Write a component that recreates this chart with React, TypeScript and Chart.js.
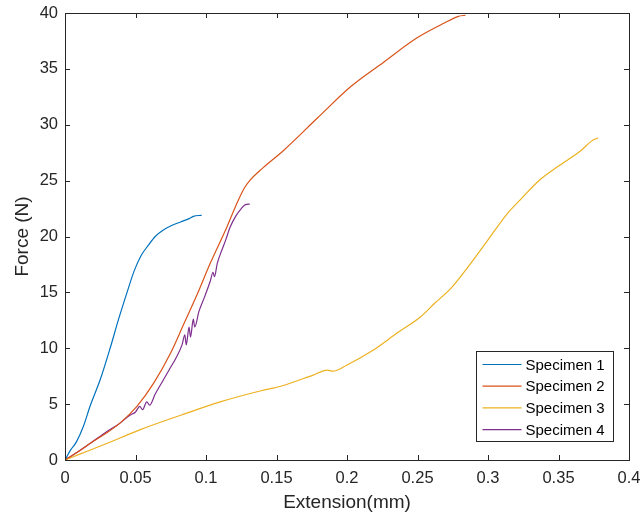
import React, { useEffect, useRef } from "react";
import { Chart, registerables } from "chart.js";

Chart.register(...registerables);

const seriesLabels = ["Specimen 1", "Specimen 2", "Specimen 3", "Specimen 4"];
const seriesColors = ["#0072BD", "#D95319", "#EDB120", "#7E2F8E"];

const s1x = [0, 0.004, 0.008, 0.013, 0.018, 0.025, 0.032, 0.038, 0.044, 0.049, 0.054, 0.059, 0.064, 0.070, 0.076, 0.082, 0.088, 0.091, 0.097];
const s1y = [0, 0.9, 1.6, 3.0, 4.9, 7.2, 10.0, 12.6, 15.0, 16.9, 18.3, 19.2, 20.0, 20.6, 21.0, 21.3, 21.6, 21.8, 21.9];

const s2x = [0, 0.010, 0.018, 0.028, 0.039, 0.051, 0.063, 0.075, 0.084, 0.094, 0.103, 0.115, 0.122, 0.127, 0.131, 0.140, 0.155, 0.179, 0.2025, 0.226, 0.250, 0.269, 0.279, 0.284];
const s2y = [0, 0.8, 1.5, 2.3, 3.3, 4.8, 6.9, 9.6, 12.1, 14.9, 17.6, 20.9, 23.0, 24.3, 25.0, 26.1, 27.7, 30.6, 33.4, 35.6, 37.8, 39.1, 39.7, 39.8];

const s3x = [0, 0.010, 0.030, 0.053, 0.082, 0.110, 0.139, 0.153, 0.176, 0.186, 0.190, 0.200, 0.217, 0.236, 0.252, 0.262, 0.274, 0.286, 0.300, 0.314, 0.323, 0.337, 0.350, 0.366, 0.374, 0.378];
const s3y = [0, 0.5, 1.5, 2.7, 4.0, 5.2, 6.2, 6.6, 7.6, 8.05, 7.95, 8.5, 9.7, 11.4, 12.8, 14.0, 15.4, 17.3, 19.7, 22.1, 23.3, 25.1, 26.3, 27.7, 28.6, 28.8];

const s4x = [0, 0.010, 0.018, 0.028, 0.039, 0.046, 0.050, 0.053, 0.055, 0.058, 0.060, 0.064, 0.069, 0.074, 0.079, 0.083, 0.085, 0.086, 0.088, 0.089, 0.091, 0.092, 0.095, 0.099, 0.103, 0.105, 0.106, 0.108, 0.111, 0.114, 0.117, 0.121, 0.125, 0.128, 0.131];
const s4y = [0, 0.8, 1.5, 2.4, 3.3, 4.0, 4.3, 4.8, 4.5, 5.2, 4.9, 5.9, 7.0, 8.1, 9.2, 10.3, 11.2, 10.3, 11.9, 11.0, 12.6, 11.9, 13.3, 14.6, 16.0, 16.8, 16.4, 17.6, 18.7, 19.7, 20.8, 21.8, 22.5, 22.85, 22.9];

const xTitle = "Extension(mm)";
const yTitle = "Force (N)";
const xMin = 0, xMax = 0.4, xStep = 0.05;
const yMin = 0, yMax = 40, yStep = 5;

const FONT = "Arial, 'Liberation Sans', Helvetica, sans-serif";
const AXIS_COLOR = "#262626";

const toPts = (xs: number[], ys: number[]) => xs.map((x, i) => ({ x, y: ys[i] }));

const framePlugin = {
  id: "frameTicks",
  afterDatasetsDraw(chart: any) {
    const { ctx, chartArea: a, scales } = chart;
    ctx.save();
    ctx.strokeStyle = AXIS_COLOR;
    ctx.lineWidth = 1;
    ctx.strokeRect(Math.round(a.left) + 0.5, Math.round(a.top) + 0.5, Math.round(a.right - a.left), Math.round(a.bottom - a.top));
    const tl = 5;
    ctx.beginPath();
    scales.x.ticks.forEach((t: any) => {
      const px = Math.round(scales.x.getPixelForValue(t.value)) + 0.5;
      ctx.moveTo(px, a.bottom);
      ctx.lineTo(px, a.bottom - tl);
      ctx.moveTo(px, a.top);
      ctx.lineTo(px, a.top + tl);
    });
    scales.y.ticks.forEach((t: any) => {
      const py = Math.round(scales.y.getPixelForValue(t.value)) + 0.5;
      ctx.moveTo(a.left, py);
      ctx.lineTo(a.left + tl, py);
      ctx.moveTo(a.right, py);
      ctx.lineTo(a.right - tl, py);
    });
    ctx.stroke();

    // legend box
    const bw = 137, bh = 90;
    const bx = Math.round(a.right - 16 - bw) + 0.5;
    const by = Math.round(a.bottom - 19 - bh) + 0.5;
    ctx.fillStyle = "#ffffff";
    ctx.fillRect(bx, by, bw, bh);
    ctx.strokeStyle = AXIS_COLOR;
    ctx.lineWidth = 1;
    ctx.strokeRect(bx, by, bw, bh);
    ctx.font = `15px ${FONT}`;
    ctx.textBaseline = "middle";
    ctx.textAlign = "left";
    chart.data.datasets.forEach((ds: any, i: number) => {
      const cy = by + 13 + i * 21.7;
      ctx.strokeStyle = ds.borderColor;
      ctx.lineWidth = 1.2;
      ctx.beginPath();
      ctx.moveTo(bx + 6, cy);
      ctx.lineTo(bx + 45, cy);
      ctx.stroke();
      ctx.fillStyle = "#000000";
      ctx.fillText(ds.label, bx + 49, cy + 1);
    });
    ctx.restore();
  },
};

export default function App() {
  const ref = useRef<HTMLCanvasElement | null>(null);
  useEffect(() => {
    document.body.style.margin = "0";
    const canvas = ref.current!;
    const xs = [s1x, s2x, s3x, s4x];
    const ys = [s1y, s2y, s3y, s4y];
    const chart = new Chart(canvas, {
      type: "line",
      data: {
        datasets: seriesLabels.map((label, i) => ({
          label,
          data: toPts(xs[i], ys[i]),
          borderColor: seriesColors[i],
          backgroundColor: seriesColors[i],
          borderWidth: 1.2,
          pointRadius: 0,
          cubicInterpolationMode: "monotone" as const,
          fill: false,
        })),
      },
      options: {
        responsive: false,
        animation: false,
        devicePixelRatio: 1,
        layout: { padding: { top: 13, right: 12, left: 0, bottom: 0 } },
        plugins: { legend: { display: false }, tooltip: { enabled: false } },
        scales: {
          x: {
            type: "linear",
            min: xMin,
            max: xMax,
            grid: { display: false, drawTicks: false },
            border: { display: false },
            ticks: {
              stepSize: xStep,
              padding: 9,
              color: AXIS_COLOR,
              font: { family: FONT, size: 16.5 },
              maxRotation: 0,
              callback: (v: any) => String(parseFloat(Number(v).toFixed(2))),
            },
            title: {
              display: true,
              text: xTitle,
              color: AXIS_COLOR,
              font: { family: FONT, size: 19 },
              padding: { top: 0, bottom: 2 },
            },
            afterFit: (s: any) => { s.height = 56; s.paddingLeft = 0; s.paddingRight = 0; },
          },
          y: {
            type: "linear",
            min: yMin,
            max: yMax,
            grid: { display: false, drawTicks: false },
            border: { display: false },
            ticks: {
              stepSize: yStep,
              padding: 7,
              color: AXIS_COLOR,
              font: { family: FONT, size: 16.5 },
            },
            title: {
              display: true,
              text: yTitle,
              color: AXIS_COLOR,
              font: { family: FONT, size: 19 },
              padding: { top: 11, bottom: 0 },
            },
            afterFit: (s: any) => { s.width = 65; s.paddingTop = 0; s.paddingBottom = 0; },
          },
        },
      },
      plugins: [framePlugin],
    });
    return () => chart.destroy();
  }, []);
  return (
    <div style={{ width: 641, height: 516, background: "#fff" }}>
      <canvas ref={ref} width={641} height={516} />
    </div>
  );
}
